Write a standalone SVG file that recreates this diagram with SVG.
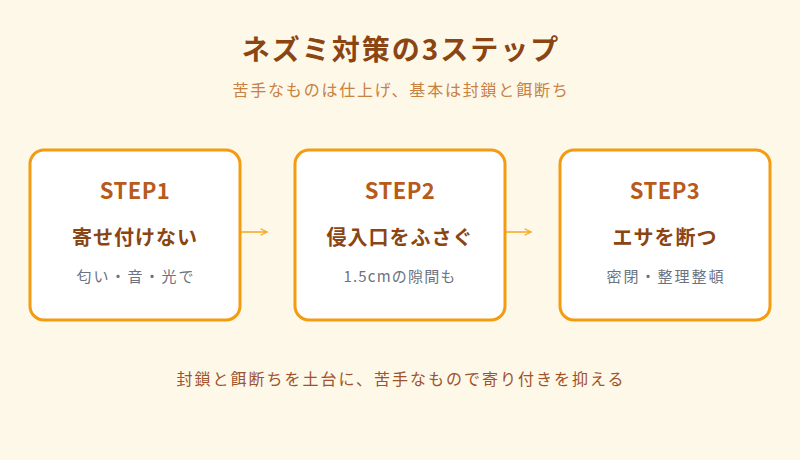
<svg xmlns="http://www.w3.org/2000/svg" width="800" height="460" viewBox="0 0 800 460">
<defs>
<marker id="ah" viewBox="0 0 10 10" refX="9" refY="5" markerWidth="8" markerHeight="8" markerUnits="userSpaceOnUse" orient="auto">
<path d="M1,1 L9,5 L1,9" fill="none" stroke="#f5a623" stroke-width="1.5"/>
</marker>
<style>
text{font-family:"Noto Sans CJK JP","Noto Sans",sans-serif;text-anchor:middle}
.box{fill:#ffffff;stroke:#f39c12;stroke-width:3}
.title{font-size:28px;font-weight:bold;fill:#8b4513;letter-spacing:2px}
.subtitle{font-size:16px;fill:#c98040;letter-spacing:1.8px}
.step{font-size:22px;font-weight:bold;fill:#b85a1a;letter-spacing:0.5px}
.main{font-size:20px;font-weight:bold;fill:#8b4513;letter-spacing:1px}
.sub{font-size:15px;fill:#6b7280;letter-spacing:2px}
.sub2{letter-spacing:1.2px}
.foot{font-size:16px;fill:#a0522d;letter-spacing:2px}
.conn{stroke:#f5a623;stroke-width:1.5;fill:none}
</style>
</defs>
<rect width="800" height="460" fill="#fdf8e8"/>
<text class="title" x="401" y="60">ネズミ対策の3ステップ</text>
<text class="subtitle" x="401" y="96">苦手なものは仕上げ、基本は封鎖と餌断ち</text>
<g id="connectors">
<line class="conn" x1="241" y1="232" x2="267" y2="232" marker-end="url(#ah)"/>
<line class="conn" x1="503" y1="232" x2="531" y2="232" marker-end="url(#ah)"/>
</g>
<g id="step1">
<rect class="box" x="30" y="150" width="210" height="170" rx="14"/>
<text class="step" x="135" y="199">STEP1</text>
<text class="main" x="135" y="245">寄せ付けない</text>
<text class="sub" x="136" y="282">匂い・音・光で</text>
</g>
<g id="step2">
<rect class="box" x="295" y="150" width="210" height="170" rx="14"/>
<text class="step" x="400" y="199">STEP2</text>
<text class="main" x="400" y="245">侵入口をふさぐ</text>
<text class="sub sub2" x="400" y="282">1.5cmの隙間も</text>
</g>
<g id="step3">
<rect class="box" x="560" y="150" width="210" height="170" rx="14"/>
<text class="step" x="665" y="199">STEP3</text>
<text class="main" x="665" y="245">エサを断つ</text>
<text class="sub" x="666" y="282">密閉・整理整頓</text>
</g>
<text class="foot" x="401" y="385">封鎖と餌断ちを土台に、苦手なもので寄り付きを抑える</text>
</svg>
